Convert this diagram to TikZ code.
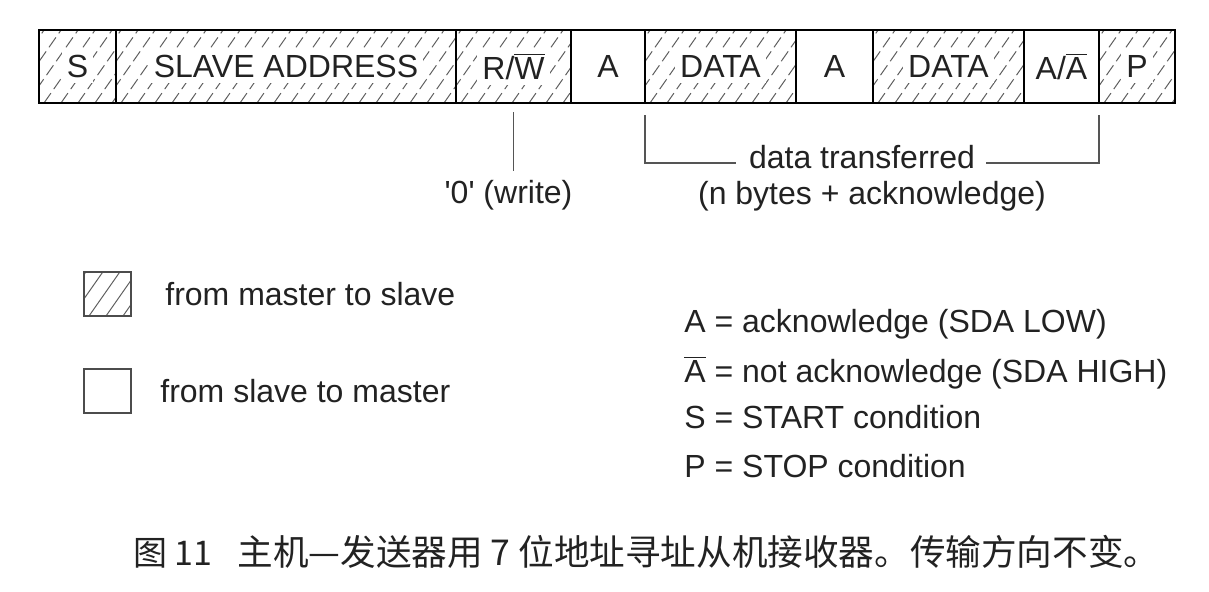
\documentclass[tikz,border=0pt]{standalone}
\usepackage{fontspec}
\setmainfont{Liberation Sans}
\newfontfamily\cjk{Noto Sans CJK SC}
\usepackage{tikz}
\usetikzlibrary{calc}
\usepackage{xcolor}
\definecolor{ink}{RGB}{34,34,34}
\definecolor{hatchgray}{RGB}{95,95,95}
\definecolor{leadgray}{RGB}{85,85,85}

\newcommand{\onwhite}[1]{{\setlength{\fboxsep}{2.5pt}\colorbox{white}{#1}}}

\tikzset{
  txt/.style={inner sep=0pt, text=ink, font=\fontsize{16}{19}\selectfont},
  cell/.style={draw=black, line width=1pt, inner sep=0pt, outer sep=0pt,
    minimum height=36.5pt, text=ink, font=\fontsize{16}{19}\selectfont},
  hatchline/.style={hatchgray, line width=0.5pt},
  hatched/.style={path picture={
    \foreach \k in {-40,-31.5,...,180}
      \draw[hatchline,#1] ([xshift=\k pt]path picture bounding box.south west) -- ++(28pt,40pt);}},
  hatched/.default={dash pattern=on 6pt off 2.5pt},
  plaincell/.style={},
  lead/.style={draw=leadgray, line width=0.9pt},
}

\begin{document}
\begin{tikzpicture}[x=0.5pt, y=0.5pt]
  \useasboundingbox (0,0) rectangle (1209,-591);

  % the frame, one cell per field
  \foreach \nm/\xa/\xb/\fl/\lab in {s/39/116/hatched/S,
      addr/116/456/hatched/SLAVE ADDRESS,
      rw/456/571/hatched/{R/$\overline{\mbox{W}}$},
      a1/571/645/plaincell/A,
      d1/645/796/hatched/DATA,
      a2/796/873/plaincell/A,
      d2/873/1024/hatched/DATA,
      aa/1024/1099/plaincell/{A/$\overline{\mbox{A}}$},
      p/1099/1175/hatched/P}
    \node[cell, \fl, minimum width={(\xb-\xa)*0.5pt}] (\nm) at ({(\xa+\xb)/2},-66.5) {\onwhite{\lab}};

  % notes under the frame
  \node[txt, anchor=base] (wr) at (508.5,-203) {{\textquotesingle}0{\textquotesingle} (write)};
  \draw[lead, shorten >=4pt] ([yshift=-4.5pt]rw.south) -- (rw.south |- wr.north);

  \node[txt, anchor=base] (dt) at (862,-168) {data transferred};
  \node[txt, anchor=base] (nb) at (872,-204) {(n bytes + acknowledge)};
  \draw[lead] ([yshift=-6pt]d1.south west) |- ([xshift=-6.5pt]dt.mid west);
  \draw[lead] ([xshift=5.5pt]dt.mid east) -| ([yshift=-6pt]aa.south east);

  % legend
  \node[cell, hatched=solid, draw=black!70, line width=0.8pt, minimum width=23.5pt, minimum height=22pt] (mts) at (107.5,-294) {};
  \node[cell, draw=black!70, line width=0.8pt, minimum width=23.5pt, minimum height=22pt] (stm) at (107.5,-391) {};
  \node[txt, anchor=base west] (mtsl) at (165,-305) {from master to slave};
  \node[txt, anchor=base west] (stml) at (160,-402) {from slave to master};

  \node[txt, anchor=base west] (ka) at (684,-332) {A = acknowledge (SDA LOW)};
  \node[txt, anchor=base west] (kn) at (684,-382) {$\overline{\mbox{A}}$ = not acknowledge (SDA HIGH)};
  \node[txt, anchor=base west] (ks) at (684,-428) {S = START condition};
  \node[txt, anchor=base west] (kp) at (684,-477) {P = STOP condition};

  % caption
  \node[txt, anchor=base west, font=\cjk\fontsize{17}{20}\selectfont] (fig) at (133,-565) {图 11};
  \node[txt, anchor=base west, font=\cjk\fontsize{17.8}{20}\selectfont] (cap) at (237,-565) {主机—发送器用 7 位地址寻址从机接收器。传输方向不变。};
\end{tikzpicture}
\end{document}
